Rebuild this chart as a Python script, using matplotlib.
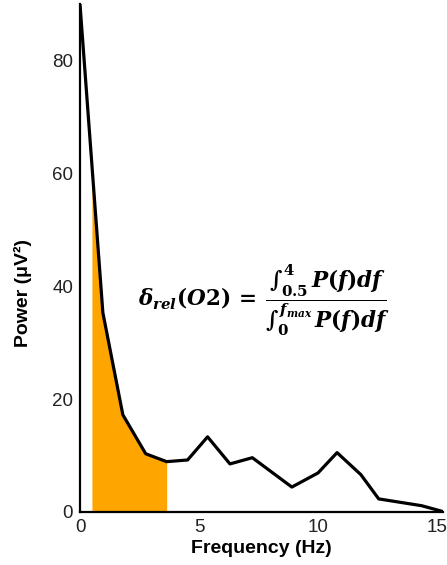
import numpy as np
import matplotlib.pyplot as plt

plt.rcParams["font.family"] = ["Liberation Sans", "DejaVu Sans"]
plt.rcParams["mathtext.fontset"] = "custom"
plt.rcParams["mathtext.rm"] = "DejaVu Serif:bold"
plt.rcParams["mathtext.it"] = "DejaVu Serif:italic:bold"
plt.rcParams["mathtext.bf"] = "DejaVu Serif:bold"

# power spectrum
freq = [0.0, 0.96, 1.8, 2.76, 3.64, 4.52, 5.36, 6.3, 7.24, 8.9, 10.0, 10.8, 11.8, 12.55, 14.35, 15.3]
power = [89.9, 35.3, 17.2, 10.3, 8.9, 9.2, 13.3, 8.5, 9.6, 4.4, 6.9, 10.5, 6.6, 2.3, 1.1, 0.0]

band_lo, band_hi = 0.5, 3.64
xticks = [0, 5, 10, 15]
yticks = [0, 20, 40, 60, 80]

freq = np.array(freq)
power = np.array(power)

fig = plt.figure(figsize=(4.47, 5.65), dpi=100)
ax = fig.add_axes([0.179, 0.094, 0.812, 0.899])

# shaded delta band
fx = np.linspace(band_lo, band_hi, 200)
fx = np.union1d(fx, freq[(freq > band_lo) & (freq < band_hi)])
ax.fill_between(fx, 0, np.interp(fx, freq, power), color="#FFA500", lw=0)

ax.plot(freq, power, color="black", lw=2.3, solid_joinstyle="round")

ax.set_xlim(0, 15.25)
ax.set_ylim(0, 90)
ax.set_xticks(xticks)
ax.set_yticks(yticks)
ax.tick_params(length=0, labelsize=13.5, colors="#222222")
ax.tick_params(axis="y", pad=5)
ax.tick_params(axis="x", pad=5)
for s in ["top", "right"]:
    ax.spines[s].set_visible(False)
for s in ["left", "bottom"]:
    ax.spines[s].set_linewidth(1.6)

ax.set_xlabel("Frequency (Hz)", fontsize=14, fontweight="bold", labelpad=3)
ax.set_ylabel("Power (μV²)", fontsize=14, fontweight="bold")
ax.yaxis.set_label_coords(-0.133, 0.43)

ax.text(0.507, 0.417,
        r"$\delta_{rel}(O2)\,=\,\dfrac{\int_{0.5}^{4}\,P(f)df}{\int_{0}^{f_{max}}\,P(f)df}$",
        transform=ax.transAxes, ha="center", va="center", fontsize=15.5)

fig.savefig("out.png", dpi=100)
